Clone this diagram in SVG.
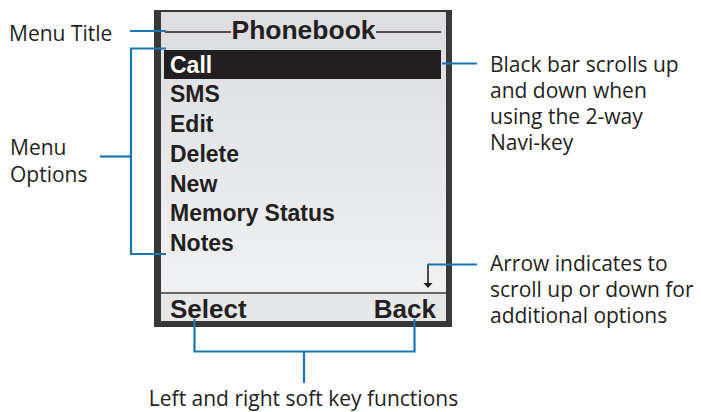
<svg xmlns="http://www.w3.org/2000/svg" width="701" height="412" viewBox="0 0 701 412">
<defs>
<linearGradient id="scr" x1="0" y1="0" x2="0" y2="1">
<stop offset="0" stop-color="#dcdde0"/>
<stop offset="1" stop-color="#f2f3f5"/>
</linearGradient>
</defs>
<style>
.lbl{font-family:"Open Sans","Noto Sans",sans-serif;font-size:21px;fill:#231f20}
.item{font-family:"Liberation Sans",Arial,sans-serif;font-weight:bold;font-size:23px;fill:#231f20}
.big{font-family:"Liberation Sans",Arial,sans-serif;font-weight:bold;font-size:26px;fill:#231f20}
.conn{stroke:#1a75b3;stroke-width:2.2;fill:none}
</style>
<g id="phone">
<rect x="154" y="10" width="298" height="317" fill="#383838"/>
<rect x="161" y="12" width="285" height="309" fill="url(#scr)"/>
<rect x="161" y="293" width="285" height="28" fill="#e6e7e9"/>
<line x1="158" y1="293" x2="447" y2="293" stroke="#3a3a3a" stroke-width="1.6"/>
</g>
<g id="title">
<line x1="165" y1="32" x2="231" y2="32" stroke="#231f20" stroke-width="1.6"/>
<line x1="376" y1="32" x2="441" y2="32" stroke="#231f20" stroke-width="1.6"/>
<text class="big" x="303.5" y="39" text-anchor="middle" textLength="144" lengthAdjust="spacingAndGlyphs">Phonebook</text>
</g>
<g id="menu">
<rect x="164" y="50" width="277" height="29" fill="#231f20"/>
<text class="item" x="170" y="73" style="fill:#fff">Call</text>
<text class="item" x="170" y="102">SMS</text>
<text class="item" x="170" y="132">Edit</text>
<text class="item" x="170" y="162">Delete</text>
<text class="item" x="170" y="192">New</text>
<text class="item" x="170" y="221">Memory Status</text>
<text class="item" x="170" y="251">Notes</text>
</g>
<g id="scroll-arrow">
<line x1="428" y1="264" x2="428" y2="284" stroke="#231f20" stroke-width="1.6"/>
<polygon points="423.5,283 432.5,283 428,288" fill="#231f20"/>
</g>
<g id="softkeys">
<text class="big" x="170" y="318">Select</text>
<text class="big" x="436" y="318" text-anchor="end">Back</text>
</g>
<g id="connectors">
<polyline class="conn" points="130,31 166,31"/>
<polyline class="conn" points="166,48.5 131,48.5 131,254 166,254"/>
<line class="conn" x1="100" y1="156.5" x2="131" y2="156.5"/>
<line class="conn" x1="442" y1="63.5" x2="477" y2="63.5"/>
<line class="conn" x1="427.5" y1="264.5" x2="477" y2="264.5"/>
<polyline class="conn" points="194.5,319 194.5,351.5 414.5,351.5 414.5,319"/>
<line class="conn" x1="304" y1="351.5" x2="304" y2="383"/>
</g>
<g id="labels">
<text class="lbl" x="9" y="40.5">Menu Title</text>
<text class="lbl" x="10" y="155">Menu</text>
<text class="lbl" x="10" y="181.5">Options</text>
<text class="lbl" x="490" y="71.5">Black bar scrolls up</text>
<text class="lbl" x="490" y="97.5">and down when</text>
<text class="lbl" x="490" y="123.5">using the 2-way</text>
<text class="lbl" x="490" y="149.5">Navi-key</text>
<text class="lbl" x="490" y="271">Arrow indicates to</text>
<text class="lbl" x="490" y="297">scroll up or down for</text>
<text class="lbl" x="490" y="323">additional options</text>
<text class="lbl" x="303.5" y="406" text-anchor="middle">Left and right soft key functions</text>
</g>
</svg>
